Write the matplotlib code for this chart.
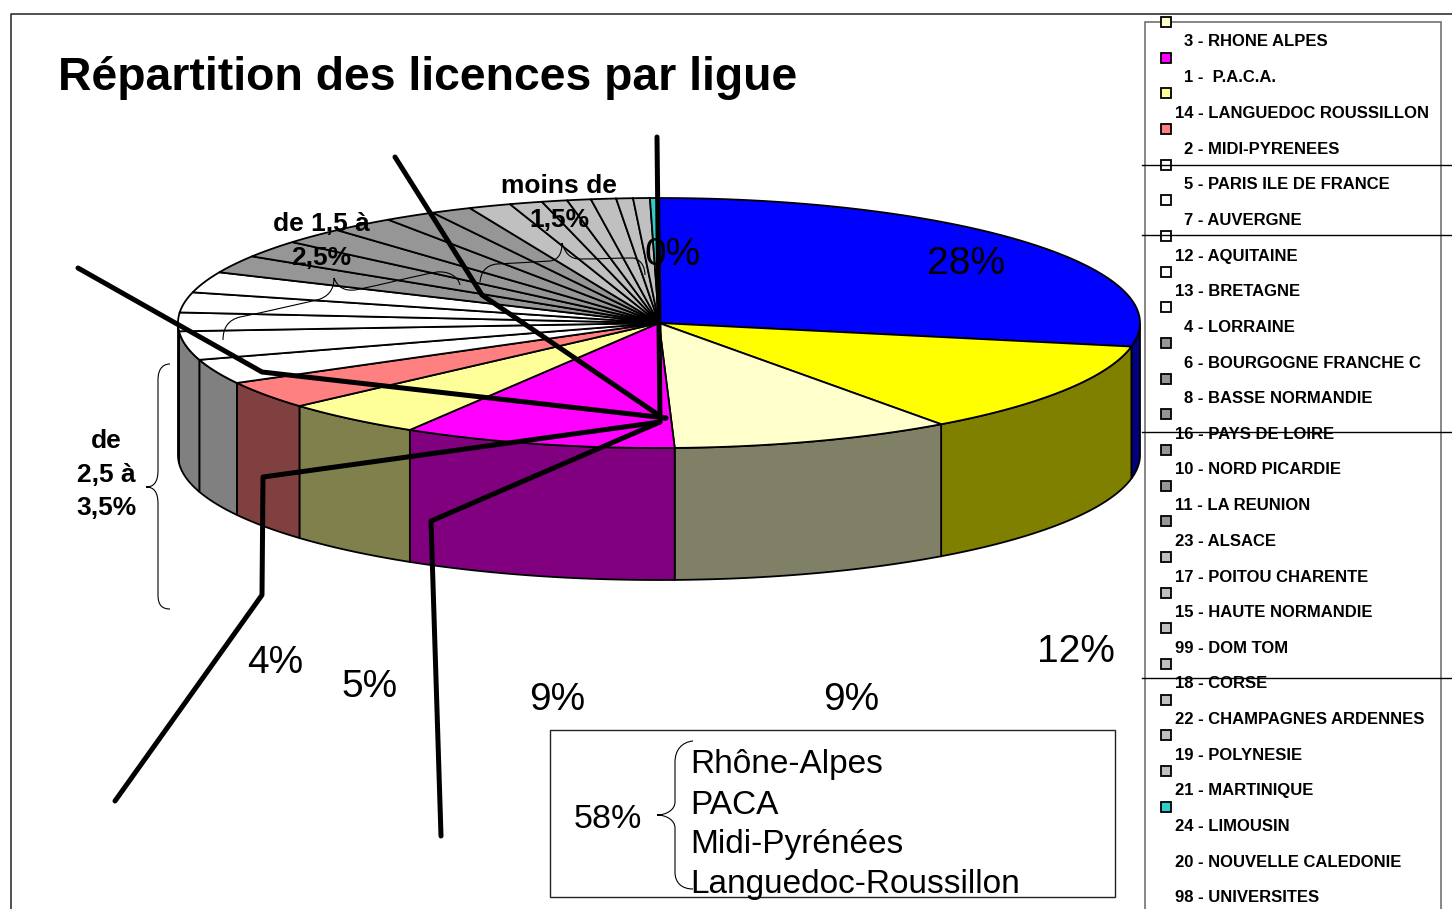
import numpy as np
from matplotlib import pyplot as plt
from matplotlib.path import Path
from matplotlib.patches import PathPatch, Rectangle

plt.rcParams['font.family'] = ['Liberation Sans', 'DejaVu Sans']

# parts du camembert, sens horaire depuis le haut
parts = [28.0, 12.0, 9.45, 9.18, 4.77, 3.6, 3.2, 3.7, 2.4, 2.6, 2.7, 2.3, 2.25, 2.13, 2.15, 1.72,
         1.36, 1.42, 1.1, 0.85, 0.8, 0.84, 0.56, 0.56, 0.3]
top_colors = ['#0000ff', '#ffff00', '#ffffcc', '#ff00ff', '#ffff99', '#ff8080'] + ['#ffffff'] * 5 \
    + ['#969696'] * 6 + ['#c0c0c0'] * 7 + ['#33cccc']
side_colors = ['#000080', '#808000', '#808066', '#800080', '#80804d', '#804040'] + ['#808080'] * 19

legend_names = ['3 - RHONE ALPES', '1 -  P.A.C.A.', '14 - LANGUEDOC ROUSSILLON', '2 - MIDI-PYRENEES',
                '5 - PARIS ILE DE FRANCE', '7 - AUVERGNE', '12 - AQUITAINE', '13 - BRETAGNE', '4 - LORRAINE',
                '6 - BOURGOGNE FRANCHE C', '8 - BASSE NORMANDIE', '16 - PAYS DE LOIRE', '10 - NORD PICARDIE',
                '11 - LA REUNION', '23 - ALSACE', '17 - POITOU CHARENTE', '15 - HAUTE NORMANDIE', '99 - DOM TOM',
                '18 - CORSE', '22 - CHAMPAGNES ARDENNES', '19 - POLYNESIE', '21 - MARTINIQUE', '24 - LIMOUSIN',
                '20 - NOUVELLE CALEDONIE', '98 - UNIVERSITES']
legend_colors = top_colors[2:]

pct_labels = ['28%', '12%', '9%', '9%', '5%', '4%', '0%']
box_names = ['Rhône-Alpes', 'PACA', 'Midi-Pyrénées', 'Languedoc-Roussillon']

fig = plt.figure(figsize=(14.52, 9.09), dpi=100)
ax = fig.add_axes([0, 0, 1, 1])
ax.set_xlim(0, 1452)
ax.set_ylim(909, 0)
ax.axis('off')

cx, cy, rx, ry, depth = 659, 323, 481, 125, 132


def rim(t):
    t = np.radians(t)
    return cx + rx * np.sin(t), cy - ry * np.cos(t)


edges = np.concatenate([[0], np.cumsum(parts)]) / np.sum(parts) * 360

# faces laterales
for i in range(len(parts)):
    a, b = max(edges[i], 90), min(edges[i + 1], 270)
    if b <= a:
        continue
    t = np.linspace(a, b, 80)
    x, y = rim(t)
    ax.fill(np.r_[x, x[::-1]], np.r_[y, y[::-1] + depth], fc=side_colors[i], ec='black', lw=1.3, zorder=2)

# dessus
for i in range(len(parts)):
    t = np.linspace(edges[i], edges[i + 1], 80)
    x, y = rim(t)
    ax.fill(np.r_[cx, x], np.r_[cy, y], fc=top_colors[i], ec='black', lw=1.3, zorder=3)

# traits epais
leaders = [[(657, 137), (660, 418), (666, 418)],
           [(395, 157), (482, 295), (660, 416)],
           [(78, 268), (262, 372), (666, 418)],
           [(115, 801), (262, 595), (263, 477), (660, 422)],
           [(441, 836), (431, 521), (660, 422)]]
for pts in leaders:
    xs, ys = zip(*pts)
    ax.plot(xs, ys, color='black', lw=3.6, solid_joinstyle='round', solid_capstyle='round', zorder=5)


def curve(pts):
    codes = [Path.MOVETO] + [Path.CURVE4] * (len(pts) - 1)
    ax.add_patch(PathPatch(Path(pts, codes), fc='none', ec='black', lw=0.8, zorder=6))


# accolades
curve([(170, 364), (162, 364), (158, 370), (158, 380), (158, 410), (158, 440), (158, 470),
       (158, 482), (154, 487), (146, 487), (154, 487), (158, 492), (158, 504),
       (158, 535), (158, 565), (158, 595), (158, 605), (162, 609), (170, 609)])
curve([(693, 741), (682, 742), (675, 750), (675, 762), (675, 778), (675, 790), (675, 802),
       (675, 810), (666, 815), (657, 815), (666, 815), (675, 820), (675, 828),
       (675, 843), (675, 858), (675, 872), (675, 883), (682, 889), (693, 889)])
curve([(223, 340), (223, 328), (228, 320), (240, 317), (265, 312), (290, 306), (317, 300),
       (328, 297), (334, 290), (334, 278), (338, 288), (345, 291), (355, 290),
       (385, 284), (410, 277), (437, 272), (448, 271), (458, 276), (460, 285)])
curve([(480, 282), (481, 272), (486, 265), (497, 264), (515, 263), (535, 262), (550, 261),
       (558, 260), (562, 254), (562, 243), (565, 253), (570, 259), (580, 259),
       (600, 259), (615, 258), (633, 258), (640, 259), (645, 266), (645, 275)])

# cadre
ax.plot([11, 11, 1452], [909, 14, 14], color='#222222', lw=1.1, zorder=1)

# legende
ax.add_patch(Rectangle((1145, 22), 296, 900, fc='white', ec='#666666', lw=1.1, zorder=1))
for y in [165, 235, 432, 678]:
    ax.plot([1142, 1452], [y, y], color='black', lw=1.0, zorder=8)
step = (897 - 41) / 24
for i, name in enumerate(legend_names):
    ty = 42 + i * step
    tx = 1175 if len(name.split(' ')[0]) == 2 else 1184
    ax.text(tx, ty, name, fontsize=12, fontweight='bold', va='center', ha='left', zorder=7)
    if i < len(legend_colors):
        ax.plot([1166], [22 + i * step], marker='s', ms=7.4, mfc=legend_colors[i], mec='black', mew=1.3,
                ls='none', zorder=7)

# textes
ax.text(58, 78, 'Répartition des licences par ligue', fontsize=33.4, fontweight='bold', va='center', ha='left', zorder=9)
pct_pos = [(966, 264), (1076, 652), (851, 700), (557, 700), (370, 687), (275, 663), (673, 255)]
for lab, (x, y) in zip(pct_labels, pct_pos):
    ax.text(x, y, lab, fontsize=28, va='center', ha='center', zorder=9)

for lab, x, y in [('moins de', 559, 186), ('1,5%', 559, 220), ('de 1,5 à', 321, 224), ('2,5%', 321, 258),
                  ('de', 106, 441), ('2,5 à', 106, 475), ('3,5%', 106, 508)]:
    ax.text(x, y, lab, fontsize=19, fontweight='bold', va='center', ha='center', zorder=9)

# encadre 58%
ax.add_patch(Rectangle((550, 730), 565, 167, fc='none', ec='#222222', lw=1.0, zorder=1))
ax.text(608, 819, '58%', fontsize=24.5, va='center', ha='center', zorder=9)
for i, name in enumerate(box_names):
    ax.text(690, 765 + i * 40, name, fontsize=24, va='center', ha='left', zorder=9)

fig.savefig('out.png', dpi=100)
